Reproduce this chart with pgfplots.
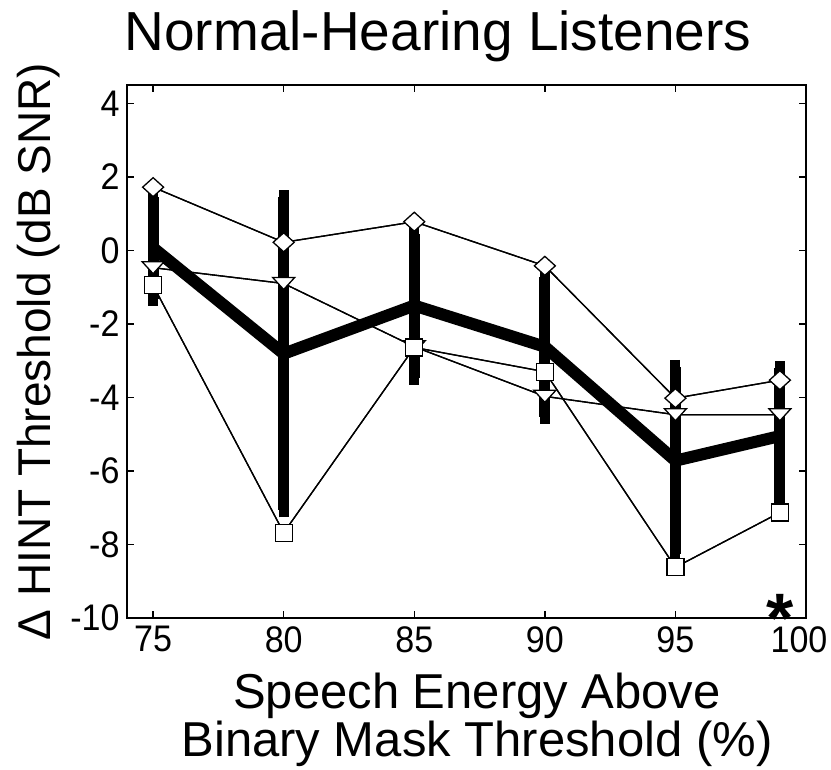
\documentclass[border=0pt]{standalone}
\usepackage{fontspec}
\setmainfont{Liberation Sans}
\newfontfamily\tickfont[FakeStretch=0.92]{Liberation Sans}
\usepackage{pgfplots}
\usepackage{pgfplotstable}
\pgfplotsset{compat=1.18}

% open markers in the style of the original plotting program
\pgfdeclareplotmark{dmd}{%
  \pgfpathmoveto{\pgfqpoint{0pt}{9.5pt}}%
  \pgfpathlineto{\pgfqpoint{10.5pt}{0pt}}%
  \pgfpathlineto{\pgfqpoint{0pt}{-9.5pt}}%
  \pgfpathlineto{\pgfqpoint{-10.5pt}{0pt}}%
  \pgfpathclose\pgfusepathqfillstroke}
\pgfdeclareplotmark{vtri}{%
  \pgfpathmoveto{\pgfqpoint{-11pt}{6pt}}%
  \pgfpathlineto{\pgfqpoint{11pt}{6pt}}%
  \pgfpathlineto{\pgfqpoint{0pt}{-6pt}}%
  \pgfpathclose\pgfusepathqfillstroke}
\pgfdeclareplotmark{sqr}{%
  \pgfpathrectangle{\pgfqpoint{-8.5pt}{-8.5pt}}{\pgfqpoint{17pt}{17pt}}%
  \pgfusepathqfillstroke}

% group mean with error bars
\pgfplotstableread{
x   y      e
75  0.07   1.38
80  -2.81  4.26
85  -1.50  1.96
90  -2.62  1.90
95  -5.72  2.55
99  -5.05  1.85
}\meandata

% individual listeners
\pgfplotstableread{
x   y
75  1.72
80  0.22
85  0.78
90  -0.42
95  -4.02
99  -3.53
}\diamonddata
\pgfplotstableread{
x   y
75  -0.47
80  -0.90
85  -2.62
90  -3.97
95  -4.47
99  -4.47
}\tridata
\pgfplotstableread{
x   y
75  -0.95
80  -7.68
85  -2.64
90  -3.30
95  -8.62
99  -7.13
}\sqrdata

\begin{document}
\begin{tikzpicture}
\begin{axis}[
  scale only axis,
  width=679pt, height=533pt,
  xmin=74, xmax=100, ymin=-10, ymax=4.5,
  xtick={75,80,...,100},
  xticklabels={75,80,85,90,95,\hspace*{-14pt}100},
  ytick={-10,-8,...,4},
  tick align=inside,
  major tick length=7pt,
  axis line style={line width=1.6pt},
  every tick/.style={line width=1.3pt, black},
  tick label style={font=\tickfont\fontsize{37}{37}\selectfont},
  /pgf/number format/assume math mode=true,
  yticklabel style={xshift=-4pt},
  xticklabel style={inner sep=2pt, yshift=-6pt},
  clip=false,
]
\coordinate (SW) at (rel axis cs:0,0);
\coordinate (NE) at (rel axis cs:1,1);
\coordinate (LM) at (rel axis cs:0,0.5);

\addplot[black, line width=12pt,
  error bars/.cd, y dir=both, y explicit,
  error bar style={line width=11pt},
  error mark options={line width=10pt, mark size=7pt}]
  table[x=x, y=y, y error=e] {\meandata};

\addplot[black, line width=1.3pt, mark=dmd, mark options={fill=white, solid}]
  table[x=x, y=y] {\diamonddata};
\addplot[black, line width=1.3pt, mark=vtri, mark options={fill=white, solid}]
  table[x=x, y=y] {\tridata};
\addplot[black, line width=1.3pt, mark=sqr, mark options={fill=white, solid}]
  table[x=x, y=y] {\sqrdata};

% connecting lines stay visible through the open markers
\addplot[black, line width=1.3pt, no marks] table[x=x, y=y] {\diamonddata};
\addplot[black, line width=1.3pt, no marks] table[x=x, y=y] {\tridata};
\addplot[black, line width=1.3pt, no marks] table[x=x, y=y] {\sqrdata};

% significance marker at the 99% condition
\node[anchor=north, inner sep=0pt, text depth=0pt,
      font=\bfseries\fontsize{70}{70}\selectfont]
  at (axis cs:99,-9.36) {\raisebox{-0.42em}{*}};
\end{axis}

\node[anchor=base, inner sep=0pt, font=\fontsize{55}{55}\selectfont]
  at ([xshift=311pt, yshift=34pt]SW |- NE) {Normal-Hearing Listeners};
\node[anchor=north, align=center, inner sep=0pt, font=\fontsize{49}{48}\selectfont]
  at ([xshift=350pt, yshift=-55pt]SW) {Speech Energy Above\\Binary Mask Threshold (\%)};
\node[rotate=90, anchor=base, inner sep=0pt, font=\fontsize{46}{46}\selectfont]
  at ([xshift=-76pt]LM) {Δ HINT Threshold (dB SNR)};

\pgfresetboundingbox
\path[use as bounding box] ([xshift=-127pt, yshift=-151pt]SW) rectangle ([xshift=25pt, yshift=85pt]NE);
\end{tikzpicture}
\end{document}
